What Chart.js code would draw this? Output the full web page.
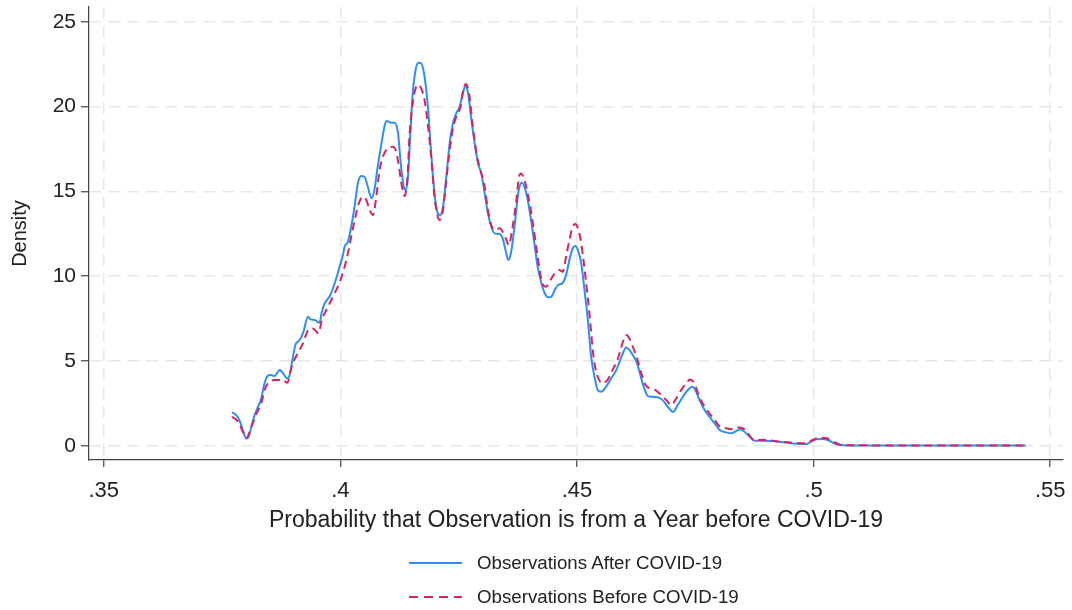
<!DOCTYPE html>
<html><head><meta charset="utf-8">
<script src="https://cdn.jsdelivr.net/npm/chart.js@4"></script>
<style>
html,body{margin:0;padding:0;background:#fff;}
#wrap{position:relative;width:1072px;height:610px;}
#legend{position:absolute;left:0;top:0;width:1072px;height:610px;pointer-events:none;font-family:"Liberation Sans",Arial,sans-serif;font-size:18.7px;color:#222;}
.item{position:absolute;left:409px;height:24px;display:flex;align-items:center;white-space:nowrap;}
.item svg{margin-right:15px;}
</style></head>
<body>
<div id="wrap">
<canvas id="c" width="1072" height="610"></canvas>
<div id="legend"></div>
</div>
<script>
const xTitle = "Probability that Observation is from a Year before COVID-19";
const yTitle = "Density";
const xTicks = [0.35, 0.40, 0.45, 0.50, 0.55];
const xTickLabels = [".35", ".4", ".45", ".5", ".55"];
const yTicks = [0, 5, 10, 15, 20, 25];
const xMin = 0.3469, xMax = 0.5527, yMin = -0.84, yMax = 25.87;

const afterLabel = "Observations After COVID-19";
const beforeLabel = "Observations Before COVID-19";

const afterX = [.3771,.3780,.3787,.3794,.3801,.3806,.3812,.3819,.3826,.3832,
.3839,.3846,.3854,.3861,.3872,.3879,.3888,.3893,.3900,.3905,
.3914,.3921,.3932,.3937,.3946,.3956,.3961,.3967,.3977,.3988,
.3999,.4006,.4009,.4016,.4023,.4030,.4037,.4044,.4051,.4058,
.4066,.4072,.4079,.4087,.4094,.4098,.4108,.4115,.4122,.4127,
.4134,.4138,.4143,.4148,.4153,.4159,.4165,.4171,.4178,.4185,
.4192,.4199,.4206,.4211,.4217,.4224,.4231,.4238,.4245,.4252,
.4259,.4264,.4270,.4277,.4284,.4291,.4298,.4305,.4312,.4319,
.4326,.4337,.4343,.4349,.4355,.4361,.4368,.4377,.4384,.4389,
.4396,.4403,.4410,.4417,.4425,.4432,.4439,.4446,.4453,.4460,
.4469,.4477,.4484,.4491,.4496,.4502,.4509,.4516,.4523,.4530,
.4537,.4544,.4551,.4562,.4573,.4583,.4590,.4597,.4604,.4611,
.4618,.4627,.4634,.4641,.4650,.4660,.4671,.4681,.4692,.4703,
.4713,.4724,.4734,.4744,.4752,.4759,.4770,.4780,.4791,.4801,
.4815,.4826,.4837,.4845,.4854,.4865,.4875,.4893,.4914,.4935,
.4956,.4984,.4995,.5006,.5019,.5030,.5041,.5055,.5076,.5200,
.5350,.5448];
const afterY = [1.97,1.81,1.5,0.93,0.44,0.5,1.12,1.81,2.3,2.7,
3.58,4.11,4.17,4.11,4.46,4.27,3.97,4.17,5.25,5.94,
6.23,6.63,7.6,7.45,7.41,7.25,7.9,8.4,8.79,9.57,
10.6,11.3,11.73,12.03,12.91,14.09,15.47,15.9,15.86,15.27,
14.59,15.08,16.45,17.83,18.91,19.15,19.05,19.05,18.42,16.85,
15.27,15.08,15.86,18.42,20.78,22.15,22.58,22.55,21.76,20.0,
17.24,14.88,13.7,13.6,14.09,15.86,17.83,19.01,19.6,19.99,
20.78,21.21,20.78,19.2,17.83,16.65,16.06,14.88,13.7,12.91,
12.52,12.48,12.23,11.54,10.95,11.44,12.91,15.08,15.51,15.27,
14.49,13.31,11.93,10.55,9.57,8.99,8.75,8.79,9.18,9.48,
9.57,10.06,10.95,11.64,11.78,11.54,10.75,9.18,7.41,5.25,
4.07,3.28,3.18,3.5,4.0,4.46,4.95,5.45,5.8,5.64,
5.35,4.86,4.17,3.48,2.93,2.89,2.85,2.69,2.3,2.0,
2.4,2.89,3.28,3.48,3.18,2.69,2.1,1.71,1.32,0.95,
0.79,0.73,0.88,0.97,0.83,0.53,0.3,0.3,0.28,0.2,
0.14,0.1,0.24,0.38,0.4,0.34,0.18,0.04,0.02,0.01,
0.01,0.01];

const beforeX = [.3771,.3784,.3794,.3801,.3812,.3823,.3833,.3840,.3847,.3861,
.3879,.3888,.3897,.3907,.3921,.3932,.3942,.3954,.3961,.3974,
.3988,.3999,.4009,.4016,.4023,.4032,.4039,.4048,.4055,.4062,
.4069,.4076,.4083,.4090,.4098,.4111,.4118,.4124,.4129,.4136,
.4142,.4146,.4153,.4159,.4164,.4171,.4178,.4182,.4192,.4199,
.4206,.4210,.4217,.4224,.4232,.4238,.4245,.4254,.4259,.4265,
.4272,.4280,.4289,.4296,.4305,.4312,.4319,.4326,.4337,.4343,
.4351,.4356,.4363,.4372,.4377,.4382,.4389,.4396,.4407,.4417,
.4427,.4435,.4444,.4453,.4463,.4470,.4477,.4484,.4491,.4496,
.4502,.4509,.4518,.4527,.4535,.4544,.4555,.4565,.4576,.4586,
.4590,.4597,.4604,.4611,.4618,.4627,.4636,.4645,.4655,.4666,
.4678,.4689,.4699,.4710,.4720,.4731,.4739,.4748,.4759,.4770,
.4780,.4791,.4801,.4815,.4829,.4840,.4851,.4861,.4875,.4900,
.4928,.4956,.4984,.4998,.5013,.5027,.5041,.5055,.5076,.5200,
.5350,.5448];
const beforeY = [1.71,1.42,0.83,0.44,1.12,1.91,2.5,3.28,3.68,3.87,
3.87,3.71,4.66,5.29,6.04,6.82,6.92,6.63,7.41,8.2,
8.99,9.67,10.55,11.34,12.32,13.5,14.29,14.68,14.49,13.9,
13.6,14.68,16.26,17.04,17.48,17.63,17.34,16.45,15.47,14.72,
15.86,18.22,20.19,21.07,21.27,21.07,20.38,19.6,17.04,14.68,
13.5,13.31,13.9,15.67,17.63,18.71,19.4,19.99,20.87,21.33,
20.78,18.81,17.04,16.26,15.27,13.9,13.01,12.72,12.82,12.62,
12.13,11.83,12.72,14.49,15.8,16.06,15.67,14.88,13.11,11.14,
9.57,9.38,9.77,10.16,10.36,10.26,11.14,12.13,12.91,13.07,
12.82,11.93,9.96,7.61,5.25,4.07,3.68,3.9,4.5,5.1,
5.45,6.13,6.53,6.33,5.84,5.15,4.27,3.58,3.38,3.28,
2.99,2.69,2.4,2.79,3.28,3.68,3.91,3.68,2.85,2.3,
1.91,1.52,1.15,1.03,0.97,1.08,1.03,0.73,0.34,0.34,
0.24,0.18,0.14,0.34,0.47,0.44,0.24,0.08,0.03,0.02,
0.02,0.02];

const blue = "#2e8ef2";
const red = "#d6245e";
const family = '"Liberation Sans", Arial, sans-serif';
const txt = "#222";
const axisCol = "#444";
const gridCol = "#e8e8e8";

const toPts = (xs, ys) => xs.map((x, i) => ({x: x, y: ys[i]}));

new Chart(document.getElementById("c"), {
  type: "line",
  data: {
    datasets: [
      {label: afterLabel, data: toPts(afterX, afterY), borderColor: blue, borderWidth: 2,
       pointRadius: 0, cubicInterpolationMode: "monotone", fill: false, order: 2},
      {label: beforeLabel, data: toPts(beforeX, beforeY), borderColor: red, borderWidth: 2,
       borderDash: [8, 5], pointRadius: 0, cubicInterpolationMode: "monotone", fill: false, order: 1}
    ]
  },
  options: {
    responsive: true, maintainAspectRatio: false, animation: false,
    layout: {padding: {top: 7, right: 9, bottom: 76, left: 0}},
    plugins: {legend: {display: false}, tooltip: {enabled: false}},
    scales: {
      x: {
        type: "linear", min: xMin, max: xMax,
        afterBuildTicks: s => { s.ticks = xTicks.map(v => ({value: v})); },
        afterFit: s => { s.height = 74; s.paddingLeft = 0; s.paddingRight = 0; },
        ticks: {callback: (v, i) => xTickLabels[i], padding: 11, autoSkip: false, maxRotation: 0,
                font: {size: 22, family: family}, color: txt},
        grid: {color: gridCol, lineWidth: 1.5, tickLength: 7, tickColor: axisCol, tickWidth: 1.2, tickBorderDash: []},
        border: {display: true, color: axisCol, width: 1.2, dash: [12, 7]},
        title: {display: true, text: xTitle, font: {size: 23, family: family}, color: txt, padding: {top: 0, bottom: 0}}
      },
      y: {
        type: "linear", min: yMin, max: yMax,
        afterBuildTicks: s => { s.ticks = yTicks.map(v => ({value: v})); },
        afterFit: s => { s.width = 89; s.paddingTop = 0; s.paddingBottom = 0; },
        ticks: {callback: v => String(v), padding: 5, font: {size: 21, family: family}, color: txt},
        grid: {color: gridCol, lineWidth: 1.5, tickLength: 8, tickColor: axisCol, tickWidth: 1.2, tickBorderDash: []},
        border: {display: true, color: axisCol, width: 1.2, dash: [12, 7]},
        title: {display: true, text: yTitle, font: {size: 20, family: family}, color: txt, padding: {top: 8, bottom: 0}}
      }
    }
  }
});

const leg = document.getElementById("legend");
const items = [
  {label: afterLabel, color: blue, dash: "", top: 551},
  {label: beforeLabel, color: red, dash: "9,6", top: 585}
];
items.forEach(it => {
  const d = document.createElement("div");
  d.className = "item";
  d.style.top = it.top + "px";
  d.innerHTML = '<svg width="53" height="4"><line x1="0" y1="2" x2="53" y2="2" stroke="' + it.color +
    '" stroke-width="2"' + (it.dash ? ' stroke-dasharray="' + it.dash + '"' : '') + '/></svg>';
  const s = document.createElement("span");
  s.textContent = it.label;
  d.appendChild(s);
  leg.appendChild(d);
});
</script>
</body></html>
